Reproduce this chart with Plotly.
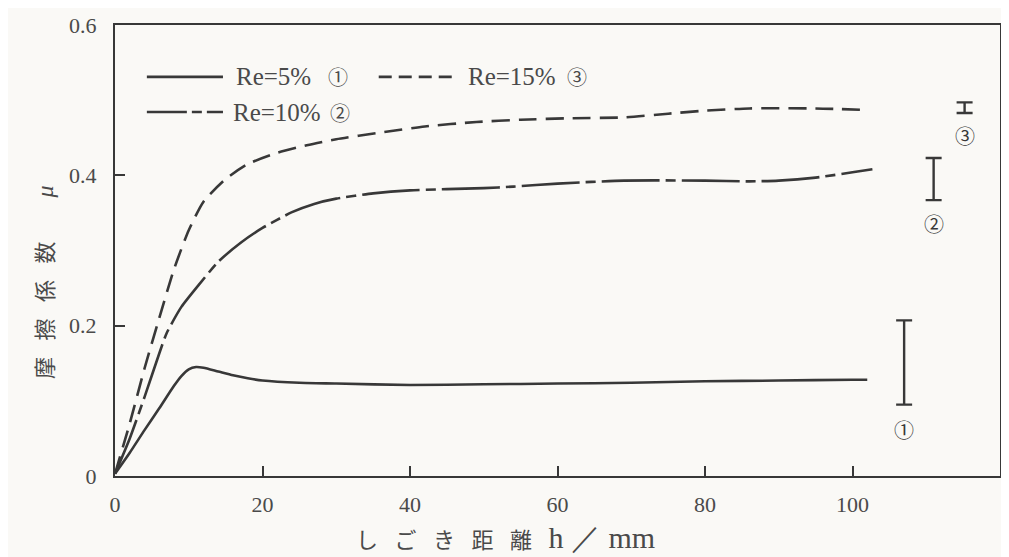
import plotly.graph_objects as go

# ---- data ----
x_re5 = [0, 2, 4, 6, 8, 9, 10, 11, 12, 14, 16, 18, 20, 25, 30, 40, 50, 60, 70, 80, 90, 100, 102]
y_re5 = [0.003, 0.031, 0.061, 0.09, 0.12, 0.133, 0.142, 0.145, 0.144, 0.139, 0.134, 0.13, 0.127, 0.124, 0.123,
         0.121, 0.122, 0.123, 0.124, 0.126, 0.127, 0.128, 0.128]

x_re10 = [0, 2, 4, 6, 7, 9, 11.5, 14, 17, 20, 24, 27, 30, 35, 40, 50, 54, 60, 69, 80, 86, 90, 95, 100, 102.7]
y_re10 = [0.003, 0.05, 0.105, 0.163, 0.19, 0.225, 0.256, 0.285, 0.31, 0.33, 0.351, 0.362, 0.369, 0.376, 0.38,
          0.383, 0.385, 0.389, 0.393, 0.393, 0.392, 0.393, 0.397, 0.404, 0.408]

x_re15 = [0, 2, 4, 6, 8, 10, 12, 15, 18, 22, 26, 30, 36, 42, 49, 55, 62, 69, 75, 80, 86, 95, 102]
y_re15 = [0.003, 0.07, 0.143, 0.21, 0.275, 0.327, 0.365, 0.395, 0.415, 0.43, 0.44, 0.448, 0.457, 0.465, 0.471,
          0.474, 0.476, 0.477, 0.482, 0.486, 0.489, 0.489, 0.487]

# scatter ranges drawn at the right side
err_x = [107, 111, 115.2]
err_low = [0.095, 0.367, 0.483]
err_high = [0.207, 0.423, 0.497]
err_labels = ["①", "②", "③"]
err_label_y = [0.062, 0.336, 0.453]

series_names = ["Re=5%", "Re=10%", "Re=15%"]
series_marks = ["①", "②", "③"]

x_ticks = [0, 20, 40, 60, 80, 100]
y_ticks = [0, 0.2, 0.4, 0.6]
y_tick_text = ["0", "0.2", "0.4", "0.6"]

INK = "#383838"
TXT = "#4a4a4a"
BG = "#faf9f6"
SERIF = "Liberation Serif, DejaVu Serif, serif"
CJK = "Noto Sans CJK JP, Noto Sans CJK SC, sans-serif"

DASH_10 = "58px,6px,10px,6px"
DASH_15 = "18px,9px"
SP = "\u2002\u2005"  # spacing between the title characters

fig = go.Figure()

fig.add_trace(go.Scatter(x=x_re5, y=y_re5, mode="lines", name=series_names[0], showlegend=False,
                         line=dict(color=INK, width=2.6, shape="spline", smoothing=0.6)))
fig.add_trace(go.Scatter(x=x_re10, y=y_re10, mode="lines", name=series_names[1], showlegend=False,
                         line=dict(color=INK, width=2.6, shape="spline", smoothing=0.6, dash=DASH_10)))
fig.add_trace(go.Scatter(x=x_re15, y=y_re15, mode="lines", name=series_names[2], showlegend=False,
                         line=dict(color=INK, width=2.6, shape="spline", smoothing=0.6, dash=DASH_15)))

centers = [(lo + hi) / 2 for lo, hi in zip(err_low, err_high)]
fig.add_trace(go.Scatter(
    x=err_x, y=centers, mode="markers", marker=dict(size=0.1, color=INK), showlegend=False,
    error_y=dict(type="data", symmetric=False,
                 array=[hi - c for hi, c in zip(err_high, centers)],
                 arrayminus=[c - lo for lo, c in zip(err_low, centers)],
                 color=INK, thickness=2.4, width=8)))

for xv, yv, t in zip(err_x, err_label_y, err_labels):
    fig.add_annotation(x=xv, y=yv, text=t, showarrow=False,
                       font=dict(family=CJK, size=20, color=INK))

# ---- legend (sample line + label), placed in paper coordinates ----
legend_rows = [  # (x0, x1, y, dash, text x, mark x)
    (0.036, 0.122, 0.885, "solid", 0.134, 0.252),
    (0.036, 0.122, 0.807, "40px,5px,10px,5px", 0.131, 0.254),
    (0.298, 0.383, 0.885, "13px,7px", 0.397, 0.522),
]
for (x0, x1, yy, dsh, tx, mx), nm, mk in zip(legend_rows, series_names, series_marks):
    fig.add_shape(type="line", xref="paper", yref="paper", x0=x0, x1=x1, y0=yy, y1=yy,
                  line=dict(color=INK, width=2.6, dash=dsh))
    fig.add_annotation(xref="paper", yref="paper", x=tx, y=yy, xanchor="left", yanchor="middle",
                       text=nm, showarrow=False, font=dict(family=SERIF, size=25, color=TXT))
    fig.add_annotation(xref="paper", yref="paper", x=mx, y=yy, xanchor="center", yanchor="middle",
                       text=mk, showarrow=False, font=dict(family=CJK, size=20, color=TXT))

# ---- axis titles ----
x_title = SP.join(["し", "ご", "き", "距", "離"]) + SP + \
    "<span style='font-family:Liberation Serif;font-size:30px'>h ／ mm</span>"
y_title = SP.join(["摩", "擦", "係", "数"]) + "\u3000\u3000" + \
    "<span style='font-family:Liberation Serif;font-size:24px'><i>μ</i></span>"

fig.add_annotation(xref="paper", yref="paper", x=0.441, y=-0.137, xanchor="center", yanchor="middle",
                   showarrow=False, text=x_title, font=dict(family=CJK, size=22, color=TXT))
fig.add_annotation(xref="paper", yref="paper", x=-0.0814, y=0.430, xanchor="center", yanchor="middle",
                   showarrow=False, textangle=-90, text=y_title, font=dict(family=CJK, size=22, color=TXT))

# the page body adds an 8 px offset, so the figure is 8 px smaller each way
fig.update_layout(
    width=1001, height=549,
    margin=dict(l=107, r=9, t=17, b=81),
    paper_bgcolor=BG, plot_bgcolor=BG,
    showlegend=False,
)

fig.update_xaxes(range=[0, 120], tickvals=x_ticks, ticks="inside", ticklen=10, tickwidth=1.6,
                 tickcolor=INK, showline=True, linecolor=INK, linewidth=2, mirror=True,
                 showgrid=False, zeroline=False, automargin=False, ticklabelstandoff=8,
                 tickfont=dict(family=SERIF, size=22, color=TXT))
fig.update_yaxes(range=[0, 0.6], tickvals=y_ticks, ticktext=y_tick_text, ticks="inside", ticklen=10,
                 tickwidth=1.6, tickcolor=INK, showline=True, linecolor=INK, linewidth=2, mirror=True,
                 showgrid=False, zeroline=False, automargin=False, ticklabelstandoff=12,
                 tickfont=dict(family=SERIF, size=22, color=TXT))

fig.write_html("out.html")
